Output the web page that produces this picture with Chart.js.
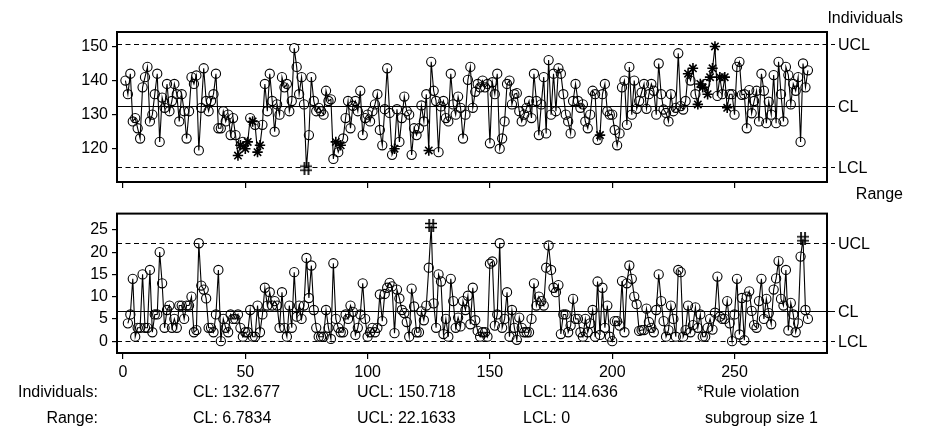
<!DOCTYPE html>
<html><head><meta charset="utf-8">
<script src="https://cdn.jsdelivr.net/npm/chart.js@4/dist/chart.umd.min.js"></script>
<style>
html,body{margin:0;padding:0;background:#fff;}
#wrap{position:relative;width:941px;height:447px;overflow:hidden;font-family:"Liberation Sans",Arial,sans-serif;color:#000;background:#fff;}
canvas{position:absolute;left:0;}
.t{position:absolute;font-size:16px;line-height:16px;white-space:nowrap;}
</style></head><body>
<div id="wrap">
<canvas id="c1" width="941" height="200" style="top:0px"></canvas>
<canvas id="c2" width="941" height="247" style="top:200px"></canvas>
<div class="t" style="right:38px;top:10px">Individuals</div>
<div class="t" style="right:38px;top:186px">Range</div>
<div class="t" style="right:843px;top:384px">Individuals:</div>
<div class="t" style="left:193px;top:384px">CL: 132.677</div>
<div class="t" style="left:357px;top:384px">UCL: 150.718</div>
<div class="t" style="left:523px;top:384px">LCL: 114.636</div>
<div class="t" style="left:697px;top:384px">*Rule violation</div>
<div class="t" style="right:843px;top:410px">Range:</div>
<div class="t" style="left:193px;top:410px">CL: 6.7834</div>
<div class="t" style="left:357px;top:410px">UCL: 22.1633</div>
<div class="t" style="left:523px;top:410px">LCL: 0</div>
<div class="t" style="left:705px;top:410px">subgroup size 1</div>
</div>
<script>
// ---- data ----
const individuals = [
140,136,142,128,129,126,123,138,141,144,
128,130,136,142,122,135,132,139,131,134,
139,136,128,136,131,123,131,141,139,141.5,
119.5,132,143.6,134,131,134,136,142,126,126,
131,128,130,124,129,124,118,121,122,120,
122,129,128,127,119,121,127,139,131,142,
134,125,133,130,141,138,139,131,134,149.5,
144,136,141,133,114.3,124,141,134,131,132,
131,130,137,134,134.5,117,122,119,121,123,
129,134,126,132.6,134,131,137,124,129,130,
128,131,133,136,125.5,121,131.6,143.6,130.5,118.2,
120,131.6,122,129,135.3,131,130,118.2,126,124,
126,132.7,128,136,119.5,145.5,137,134,119,132.4,
134,129,128,142,133,130,135.3,132,123,130,
140.2,144,132,136.7,139,138,140,138,139,121.6,
139.5,136,142,120,123,128,139,140,133,136,
136.3,131,128,130,132,134,129,142,134,124,
133,141,124.5,146,130,142,131,143.6,142,136,
130,128,124.5,134,139,134,132,133,128,126,
130,137,136,122.6,124,136,139,131,130,130,
125.5,121,124.5,138,140,127,144,130,140,131.7,
134,136.5,139,131.7,136,139,137,130,145,136,
131.5,130.5,128,136,131,132,148,132.5,131.5,134,
142,140,143.6,136,133,139,138,139,136,141,
143.6,150,135.5,141,136,141,132,136,136,130,
144,145.5,135.8,136,126,137.2,130.4,134,137,128,
142,137,127.5,133.8,130,141.6,127.5,145.5,136,128,
144,141.6,133,139,137,141,122,145,138,143];
// moving ranges, observations 2..280
const movingRange = [
4,6,14,1,3,3,15,3,3,
16,2,6,6,20,13,3,7,8,3,
5,3,8,8,5,8,8,10,2,2.5,
22,12.5,11.6,9.6,3,3,2,6,16,0,
5,3,2,6,5,5,6,3,1,2,
2,7,1,1,8,2,6,12,8,11,
8,9,8,3,11,3,1,8,3,15.5,
5.5,8,5,8,18.7,9.7,17,7,3,1,
1,1,7,3,0.5,17.5,5,3,2,2,
6,5,8,6.6,1.4,3,6,13,5,1,
2,3,2,3,10.5,4.5,10.6,12,13.1,12.3,
1.8,11.6,9.6,7,6.3,4.3,1,11.8,7.8,2,
2,6.7,4.7,8,16.5,26,8.5,3,15,13.4,
1.6,5,1,14,9,3,5.3,3.3,9,7,
10.2,3.8,12,4.7,2.3,1,2,2,1,17.4,
17.9,3.5,6,22,3,5,11,1,7,3,
0.3,5.3,3,2,2,2,5,13,8,10,
9,8,16.5,21.5,16,12,11,12.6,1.6,6,
6,2,3.5,9.5,5,5,2,1,5,2,
4,7,1,13.4,1.4,12,3,8,1,0,
4.5,4.5,3.5,13.5,2,13,17,14,10,8.3,
2.3,2.5,2.5,7.3,4.3,3,2,7,15,9,
4.5,1,2.5,8,5,1,16,15.5,1,2.5,
8,2,3.6,7.6,3,6,1,1,3,5,
2.6,6.4,14.5,5.5,5,5,9,4,0,6,
14,1.5,9.7,0.2,10,11.2,6.8,3.6,3,9,
14,5,9.5,6.3,3.8,11.6,14.1,18,9.5,8,
16,2.4,8.6,6,2,4,19,23,7,5];
const indStarObs = [47,48,50,51,53,55,56,87,89,111,125,195,231,233,235,236,237,239,240,241,242,244,246,247];
const indHashObs = [75];
const mrHashObs = [126,278];
const indLimits = {ucl:150.718, cl:132.677, lcl:114.636};
const mrLimits = {ucl:22.1633, cl:6.7834, lcl:0};
const xTickValues = [0,50,100,150,200,250];
const indTickValues = [120,130,140,150];
const mrTickValues = [0,5,10,15,20,25];

// ---- drawing ----
const FONT = '"Liberation Sans", Arial, sans-serif';
const hashImg = (()=>{const c=document.createElement('canvas');c.width=12;c.height=13;const g=c.getContext('2d');
 g.strokeStyle='#000';g.lineWidth=1.7;g.beginPath();
 g.moveTo(4,0);g.lineTo(4,13);g.moveTo(8,0);g.lineTo(8,13);g.moveTo(0,4.5);g.lineTo(12,4.5);g.moveTo(0,8.5);g.lineTo(12,8.5);g.stroke();return c;})();

const ctrlPlugin = {
  id:'ctrl',
  beforeDatasetsDraw(chart, args, opts){
    const {ctx, chartArea:a} = chart; const y = chart.scales.y;
    ctx.save();
    ctx.strokeStyle='#000'; ctx.lineWidth=1.2;
    for (const L of opts.lines){
      const py = Math.round(y.getPixelForValue(L.v))+0.5;
      ctx.setLineDash(L.dash ? [5,3.5] : []);
      ctx.beginPath(); ctx.moveTo(a.left,py); ctx.lineTo(a.right+8,py); ctx.stroke();
      ctx.setLineDash([]);
      ctx.fillStyle='#000'; ctx.font='16px '+FONT; ctx.textBaseline='middle'; ctx.textAlign='left';
      ctx.fillText(L.label, a.right+11, py+1);
    }
    ctx.restore();
  },
  afterDraw(chart){
    const {ctx, chartArea:a} = chart;
    ctx.save(); ctx.strokeStyle='#000'; ctx.lineWidth=2;
    ctx.strokeRect(a.left, a.top, a.right-a.left, a.bottom-a.top);
    ctx.restore();
  }
};

function makeChart(id, pts, stars, hashes, lim, yMin, yMax, yTicks, padTop, xHeight, showX){
  const starSet = new Set(stars), hashSet = new Set(hashes);
  const obsOf = c => (c.raw && c.raw.x !== undefined) ? c.raw.x : -1;
  return new Chart(document.getElementById(id), {
    type:'line',
    data:{datasets:[{data:pts, borderColor:'#000', borderWidth:1.1, tension:0, fill:false,
      pointStyle: c => hashSet.has(obsOf(c)) ? hashImg : (starSet.has(obsOf(c)) ? 'star' : 'circle'),
      pointRadius: c => starSet.has(obsOf(c)) ? 5.2 : 4.6,
      pointBorderWidth: c => starSet.has(obsOf(c)) ? 1.6 : 1.1,
      pointBorderColor:'#000', pointBackgroundColor:'rgba(0,0,0,0)'}]},
    options:{responsive:false, animation:false, devicePixelRatio:1,
      layout:{padding:{top:padTop,right:114,left:0,bottom:0}},
      plugins:{legend:{display:false}, tooltip:{enabled:false},
        ctrl:{lines:[{v:lim.ucl,label:'UCL',dash:true},{v:lim.cl,label:'CL',dash:false},{v:lim.lcl,label:'LCL',dash:true}]}},
      scales:{
        x:{type:'linear', min:-2.45, max:287.8,
          afterBuildTicks: s => { s.ticks = xTickValues.map(v=>({value:v})); },
          afterFit: s => { s.height = xHeight; },
          grid:{display:true, drawOnChartArea:false, drawTicks:true, tickLength:6, color:'#000', lineWidth:1.2},
          border:{display:false},
          ticks:{display:showX, color:'#000', font:{size:16, family:FONT}, padding:4, maxRotation:0, autoSkip:false}},
        y:{min:yMin, max:yMax,
          afterBuildTicks: s => { s.ticks = yTicks.map(v=>({value:v})); },
          afterFit: s => { s.width = 117; },
          grid:{display:true, drawOnChartArea:false, drawTicks:true, tickLength:5, color:'#000', lineWidth:1.2},
          border:{display:false},
          ticks:{color:'#000', font:{size:16, family:FONT}, padding:4, autoSkip:false}}
      }
    },
    plugins:[ctrlPlugin]
  });
}

const indPts = individuals.map((v,i)=>({x:i+1, y:v}));
const mrPts = movingRange.map((v,i)=>({x:i+2, y:v}));
makeChart('c1', indPts, indStarObs, indHashObs, indLimits, 110.24, 154.24, indTickValues, 32, 18, false);
makeChart('c2', mrPts, [], mrHashObs, mrLimits, -2.66, 28.66, mrTickValues, 3, 94, true);
</script>
</body></html>
